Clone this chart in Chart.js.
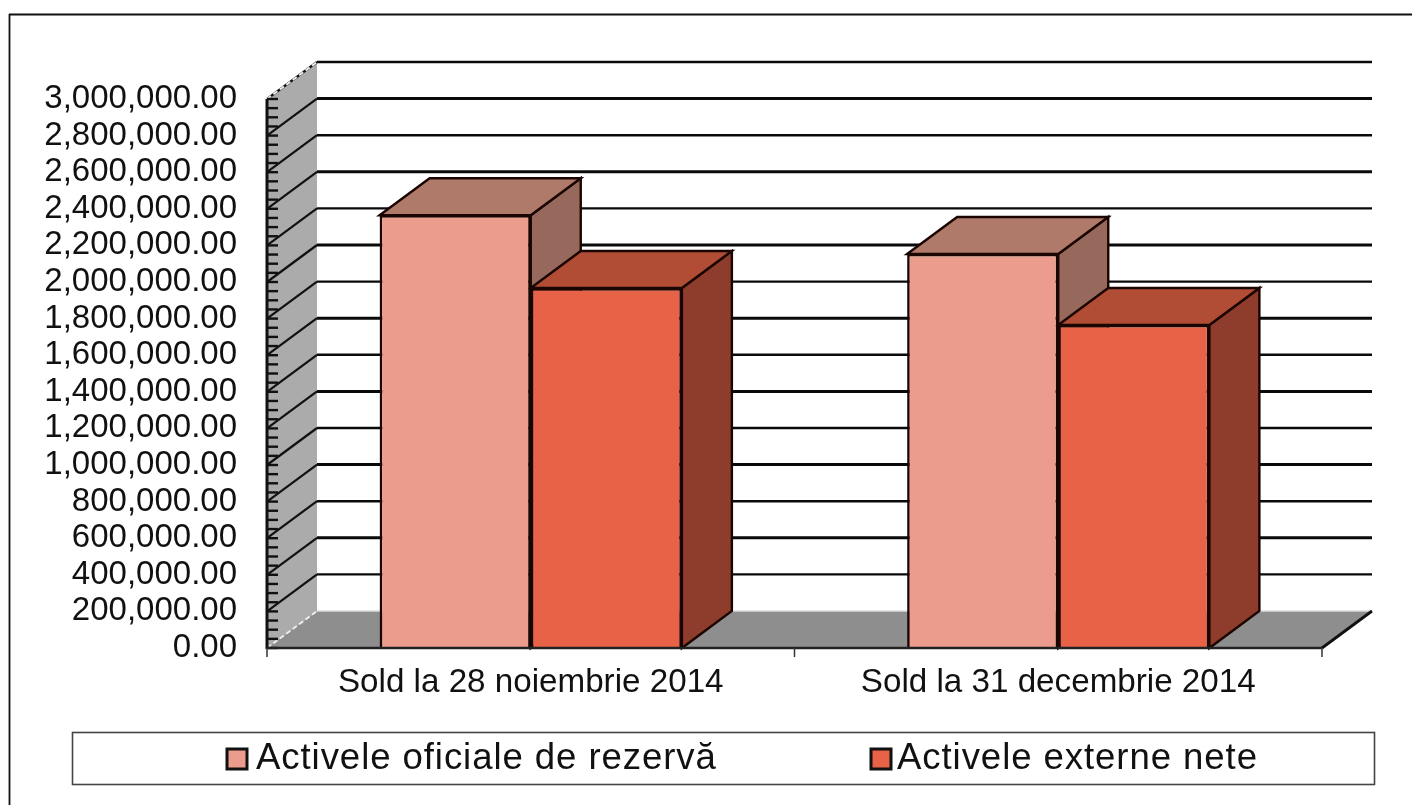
<!DOCTYPE html>
<html><head><meta charset="utf-8">
<style>html,body{margin:0;padding:0;background:#fff}canvas{display:block;filter:blur(0.55px)}</style>
<script src="https://cdn.jsdelivr.net/npm/chart.js@4"></script>
</head><body><canvas id="c" width="1412" height="805"></canvas>
<script>
const categories = ["Sold la 28 noiembrie 2014", "Sold la 31 decembrie 2014"];
const seriesNames = ["Activele oficiale de rezervă", "Activele externe nete"];
const officialReserves = [2365000, 2153000];
const netExternalAssets = [1967000, 1765000];
const frontColors = ["#EB9C8C", "#E86247"];
const topColors = ["#B07A6A", "#B24D35"];
const sideColors = ["#97695C", "#8E3C2B"];
const DX = 50, DY = -37;

function poly(ctx, pts, fill, stroke, lw) {
  ctx.save();
  ctx.beginPath();
  pts.forEach((p, i) => i ? ctx.lineTo(p[0], p[1]) : ctx.moveTo(p[0], p[1]));
  ctx.closePath();
  if (fill) { ctx.fillStyle = fill; ctx.fill(); }
  if (stroke) { ctx.strokeStyle = stroke; ctx.lineWidth = lw || 2; ctx.stroke(); }
  ctx.restore();
}
function seg(ctx, x1, y1, x2, y2, col, lw, dash) {
  ctx.save(); ctx.beginPath(); ctx.moveTo(x1, y1); ctx.lineTo(x2, y2);
  ctx.strokeStyle = col; ctx.lineWidth = lw; if (dash) ctx.setLineDash(dash); ctx.stroke(); ctx.restore();
}
const scene = {
  id: "scene",
  beforeDatasetsDraw(chart) {
    const ctx = chart.ctx, y = chart.scales.y;
    const a = chart.chartArea;
    seg(ctx, 9.5, 14, 9.5, 805, "#111", 1.8);
    seg(ctx, 9, 14.5, 1412, 14.5, "#111", 1.8);
    poly(ctx, [[a.left, a.top], [a.left + DX, a.top + DY], [a.left + DX, a.bottom + DY], [a.left, a.bottom]], "#ABABAB");
    poly(ctx, [[a.left, a.bottom], [a.left + DX, a.bottom + DY], [a.right + DX, a.bottom + DY], [a.right, a.bottom]], "#8E8E8E");
    const step = y.ticks[1].value - y.ticks[0].value;
    y.ticks.forEach((t, i) => {
      const py = y.getPixelForValue(t.value);
      if (t.value !== 0) {
        seg(ctx, a.left, py, a.left + DX, py + DY, "#111", 2.2);
        seg(ctx, a.left + DX, py + DY, a.right + DX, py + DY, "#0a0a0a", i % 2 ? 2.4 : 3);
      }
    });
    seg(ctx, a.left, a.top, a.left + DX, a.top + DY, "#eee", 2, [5, 3]);
    seg(ctx, a.left, a.bottom, a.left + DX, a.bottom + DY, "#eee", 2, [5, 3]);
    seg(ctx, a.left + DX, a.bottom + DY, a.right + DX, a.bottom + DY, "#ddd", 1.5);
    for (let v = 0; v <= y.max; v += step / 4) {
      const py = y.getPixelForValue(v);
      seg(ctx, a.left, py, a.left + 11, py, "#111", 2.4);
    }
    const m0 = chart.getDatasetMeta(0), m1 = chart.getDatasetMeta(1);
    m0.data.forEach((b0, i) => {
      [b0, m1.data[i]].forEach((b, di) => {
        const l = b.x - b.width / 2, r = b.x + b.width / 2, t = b.y, bt = b.base;
        poly(ctx, [[r, t], [r + DX, t + DY], [r + DX, bt + DY], [r, bt]], sideColors[di], "#1a0500", 2.4);
        poly(ctx, [[l, t], [l + DX, t + DY], [r + DX, t + DY], [r, t]], topColors[di], "#1a0500", 2.4);
      });
    });
  },
  afterDraw(chart) {
    const ctx = chart.ctx, a = chart.chartArea;
    seg(ctx, a.left, a.top, a.left, a.bottom + 1, "#111", 3);
    seg(ctx, a.left, a.bottom, a.right, a.bottom, "#222", 2.5);
    seg(ctx, a.right, a.bottom, a.right + DX, a.bottom + DY, "#111", 2.8);
    [a.left, (a.left + a.right) / 2, a.right].forEach(px => seg(ctx, px, a.bottom, px, a.bottom + 9, "#333", 1.5));
    ctx.save();
    ctx.strokeStyle = "#444"; ctx.lineWidth = 1.6;
    ctx.strokeRect(72.5, 732.5, 1302, 52);
    ctx.font = '36.6px "Liberation Sans", Arial, sans-serif';
    ctx.letterSpacing = "0.92px";
    ctx.textBaseline = "middle";
    const items = [[227, 256], [871, 897]];
    seriesNames.forEach((n, i) => {
      ctx.fillStyle = frontColors[i];
      ctx.fillRect(items[i][0], 749, 20, 20);
      ctx.strokeStyle = "#111"; ctx.lineWidth = 3; ctx.strokeRect(items[i][0], 749, 20, 20);
      ctx.fillStyle = "#111"; ctx.fillText(n, items[i][1], 759);
    });
    ctx.restore();
  }
};
new Chart(document.getElementById("c"), {
  type: "bar",
  data: {
    labels: categories,
    datasets: [
      { label: seriesNames[0], data: officialReserves, backgroundColor: frontColors[0], borderColor: "#1a0500", borderWidth: 2.6 },
      { label: seriesNames[1], data: netExternalAssets, backgroundColor: frontColors[1], borderColor: "#1a0500", borderWidth: 2.6 }
    ]
  },
  options: {
    responsive: false, animation: false,
    layout: { padding: { top: 99, left: 0, right: 90, bottom: 97 } },
    plugins: { legend: { display: false }, tooltip: { enabled: false } },
    datasets: { bar: { categoryPercentage: 0.573, barPercentage: 1 } },
    scales: {
      x: {
        grid: { display: false }, border: { display: false },
        ticks: { font: { family: '"Liberation Sans", Arial, sans-serif', size: 33.2 }, color: "#111", padding: 7, maxRotation: 0 },
        afterFit(s) { s.height = 60; }
      },
      y: {
        min: 0, max: 3000000,
        grid: { display: false }, border: { display: false },
        ticks: {
          stepSize: 200000, autoSkip: false, padding: 22,
          font: { family: '"Liberation Sans", Arial, sans-serif', size: 33 }, color: "#111",
          callback: v => Number(v).toLocaleString("en-US", { minimumFractionDigits: 2, maximumFractionDigits: 2 })
        },
        afterFit(s) { s.width = 267; }
      }
    }
  },
  plugins: [scene]
});
</script></body></html>
